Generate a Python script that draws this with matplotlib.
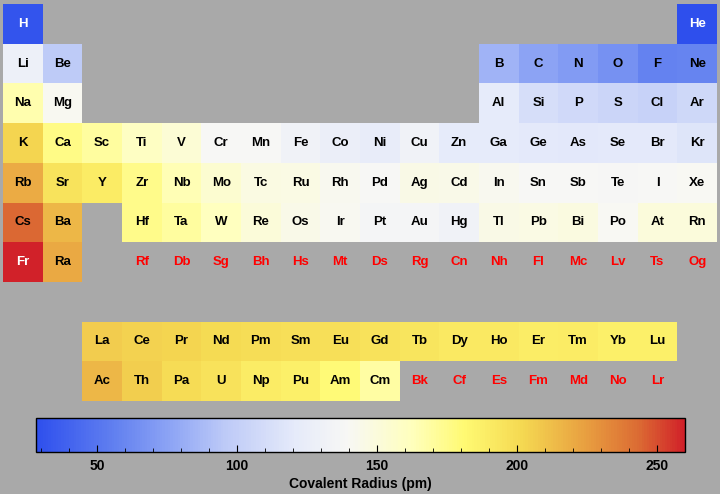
import numpy as np
import matplotlib
matplotlib.use('Agg')
import matplotlib.pyplot as plt
from matplotlib.colors import LinearSegmentedColormap, Normalize
from matplotlib.ticker import MultipleLocator

plt.rcParams['font.family'] = ['Liberation Sans', 'DejaVu Sans']

symbols = ['H', 'He',
           'Li', 'Be', 'B', 'C', 'N', 'O', 'F', 'Ne',
           'Na', 'Mg', 'Al', 'Si', 'P', 'S', 'Cl', 'Ar',
           'K', 'Ca', 'Sc', 'Ti', 'V', 'Cr', 'Mn', 'Fe', 'Co', 'Ni', 'Cu', 'Zn',
           'Ga', 'Ge', 'As', 'Se', 'Br', 'Kr',
           'Rb', 'Sr', 'Y', 'Zr', 'Nb', 'Mo', 'Tc', 'Ru', 'Rh', 'Pd', 'Ag', 'Cd',
           'In', 'Sn', 'Sb', 'Te', 'I', 'Xe',
           'Cs', 'Ba', 'Hf', 'Ta', 'W', 'Re', 'Os', 'Ir', 'Pt', 'Au', 'Hg',
           'Tl', 'Pb', 'Bi', 'Po', 'At', 'Rn',
           'Fr', 'Ra', 'Rf', 'Db', 'Sg', 'Bh', 'Hs', 'Mt', 'Ds', 'Rg', 'Cn',
           'Nh', 'Fl', 'Mc', 'Lv', 'Ts', 'Og',
           'La', 'Ce', 'Pr', 'Nd', 'Pm', 'Sm', 'Eu', 'Gd', 'Tb', 'Dy', 'Ho',
           'Er', 'Tm', 'Yb', 'Lu',
           'Ac', 'Th', 'Pa', 'U', 'Np', 'Pu', 'Am', 'Cm', 'Bk', 'Cf', 'Es',
           'Fm', 'Md', 'No', 'Lr']

# covalent radius in pm, nan = no data
radii = [31, 28,
         128, 96, 84, 76, 71, 66, 57, 58,
         166, 141, 121, 111, 107, 105, 102, 106,
         203, 176, 170, 160, 153, 139, 139, 132, 126, 124, 132, 122,
         122, 120, 119, 120, 120, 116,
         220, 195, 190, 175, 164, 154, 147, 146, 142, 139, 145, 144,
         142, 139, 139, 138, 139, 140,
         244, 215, 175, 170, 162, 151, 144, 141, 136, 136, 132,
         145, 146, 148, 140, 150, 150,
         260, 221] + [np.nan] * 15 + \
        [207, 204, 203, 201, 199, 198, 198, 196, 194, 192, 192,
         189, 190, 187, 187,
         215, 206, 200, 196, 190, 187, 180, 169] + [np.nan] * 7

groups = [1, 18,
          1, 2, 13, 14, 15, 16, 17, 18,
          1, 2, 13, 14, 15, 16, 17, 18] + list(range(1, 19)) * 2 + \
         [1, 2] + list(range(4, 19)) + [1, 2] + list(range(4, 19)) + \
         list(range(3, 18)) * 2
periods = [1] * 2 + [2] * 8 + [3] * 8 + [4] * 18 + [5] * 18 + \
          [6] * 17 + [7] * 17 + [9] * 15 + [10] * 15

cmap = LinearSegmentedColormap.from_list('temp', [
    (0.00, (0.18, 0.31, 0.93)),
    (0.125, (0.39, 0.51, 0.94)),
    (0.21, (0.56, 0.65, 0.96)),
    (0.29, (0.74, 0.79, 0.97)),
    (0.40, (0.90, 0.92, 0.98)),
    (0.48, (0.97, 0.97, 0.96)),
    (0.58, (1.00, 1.00, 0.74)),
    (0.66, (1.00, 0.98, 0.45)),
    (0.75, (0.96, 0.85, 0.32)),
    (0.85, (0.91, 0.62, 0.25)),
    (0.93, (0.86, 0.42, 0.20)),
    (1.00, (0.82, 0.13, 0.16))])
norm = Normalize(vmin=28, vmax=260)

grid = np.full((10, 18), np.nan)
for g, p, r in zip(groups, periods, radii):
    grid[p - 1, g - 1] = r

bg = '#a9a9a9'
fig = plt.figure(figsize=(7.2, 4.94), dpi=100, facecolor=bg)
ax = fig.add_axes([3 / 720, 1 - 401 / 494, 714 / 720, 397 / 494])
ax.set_facecolor(bg)
mesh = ax.pcolormesh(np.ma.masked_invalid(grid), cmap=cmap, norm=norm)
ax.set_xlim(0, 18)
ax.set_ylim(10, 0)
ax.axis('off')

for s, g, p, r in zip(symbols, groups, periods, radii):
    if np.isnan(r):
        col = 'red'
    elif r < 45 or r > 250:
        col = 'white'
    else:
        col = 'black'
    ax.text(g - 0.5, p - 0.5, s, ha='center', va='center', fontsize=9.5,
            fontweight='bold', color=col)

cax = fig.add_axes([35.6 / 720, 1 - 452 / 494, 649.4 / 720, 34 / 494])
cb = fig.colorbar(mesh, cax=cax, orientation='horizontal')
cb.outline.set_linewidth(1)
cb.set_ticks([50, 100, 150, 200, 250])
cax.xaxis.set_minor_locator(MultipleLocator(10))
cax.tick_params(which='both', direction='in', bottom=True, top=False,
                labelsize=10, pad=5, color='black')
cax.tick_params(which='major', length=5)
cax.tick_params(which='minor', length=3)
for lab in cax.get_xticklabels():
    lab.set_fontweight('bold')
cb.set_label('Covalent Radius (pm)', fontsize=10, fontweight='bold', labelpad=3)

fig.savefig('out.png', dpi=100, facecolor=bg)
